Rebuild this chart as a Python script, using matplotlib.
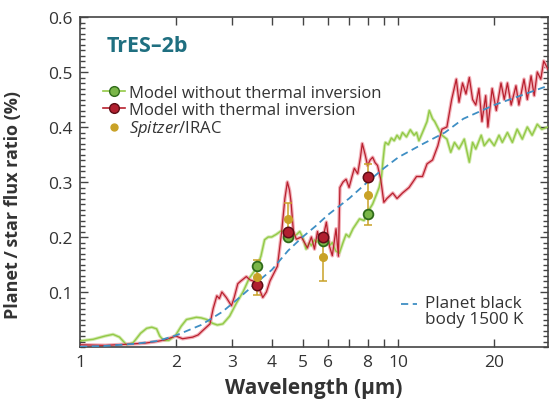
import matplotlib
matplotlib.use("Agg")
import matplotlib.pyplot as plt
from matplotlib.lines import Line2D
from matplotlib.ticker import FixedLocator, MultipleLocator, NullFormatter

plt.rcParams['font.family'] = ['Open Sans', 'DejaVu Sans']
plt.rcParams['mathtext.fontset'] = 'custom'
plt.rcParams['mathtext.rm'] = 'Open Sans'
plt.rcParams['mathtext.it'] = 'Open Sans:italic'
plt.rcParams['mathtext.bf'] = 'Open Sans:bold'

# ---------------- data ----------------
green_wl = [1.0, 1.1, 1.2, 1.27, 1.33, 1.40, 1.47, 1.55, 1.62, 1.68, 1.74, 1.78, 1.83, 1.9,
            2.0, 2.08, 2.16, 2.24, 2.32, 2.4, 2.5, 2.61, 2.7, 2.81, 2.95, 3.1, 3.25, 3.4,
            3.55, 3.62, 3.7, 3.8, 3.9, 4.0, 4.14, 4.3, 4.45, 4.55, 4.65, 4.8, 4.9, 5.0,
            5.13, 5.25, 5.33, 5.45, 5.52, 5.65, 5.8, 5.98, 6.1, 6.2, 6.35, 6.52, 6.7, 6.85,
            7.0, 7.2, 7.55, 7.8, 8.1, 8.3, 8.5, 8.7, 8.85, 8.95, 9.05, 9.1, 9.3, 9.5, 9.7,
            9.9, 10.1, 10.3, 10.6, 10.9, 11.2, 11.4, 11.6, 11.9, 12.1, 12.3, 12.5, 12.8,
            13.0, 13.4, 13.7, 14.2, 14.6, 15.0, 15.5, 16.1, 16.7, 17.1, 17.5, 18.2, 18.6,
            19.3, 20.0, 20.7, 21.2, 22.0, 22.8, 23.6, 24.5, 25.4, 26.3, 27.3, 28.2, 29.5]
green_val = [0.011, 0.014, 0.020, 0.023, 0.018, 0.004, 0.008, 0.025, 0.034, 0.036, 0.033, 0.020,
             0.012, 0.012, 0.022, 0.038, 0.050, 0.052, 0.054, 0.053, 0.050, 0.043, 0.040, 0.042,
             0.056, 0.080, 0.100, 0.125, 0.140, 0.150, 0.165, 0.195, 0.200, 0.200, 0.205, 0.212,
             0.205, 0.195, 0.200, 0.205, 0.210, 0.200, 0.178, 0.190, 0.184, 0.195, 0.190, 0.200,
             0.190, 0.198, 0.185, 0.190, 0.175, 0.170, 0.190, 0.205, 0.200, 0.215, 0.233, 0.230,
             0.250, 0.260, 0.275, 0.290, 0.310, 0.340, 0.366, 0.372, 0.368, 0.380, 0.375, 0.385,
             0.378, 0.390, 0.382, 0.395, 0.385, 0.390, 0.375, 0.390, 0.400, 0.410, 0.430, 0.415,
             0.410, 0.395, 0.385, 0.378, 0.354, 0.372, 0.360, 0.378, 0.336, 0.372, 0.360, 0.385,
             0.366, 0.378, 0.366, 0.385, 0.372, 0.390, 0.372, 0.396, 0.378, 0.400, 0.385, 0.405,
             0.396, 0.400]

red_wl = [1.0, 1.2, 1.4, 1.6, 1.74, 1.85, 2.0, 2.1, 2.26, 2.35, 2.43, 2.56, 2.62, 2.69, 2.74,
          2.79, 2.88, 2.99, 3.05, 3.13, 3.2, 3.33, 3.42, 3.5, 3.58, 3.66, 3.75, 3.85, 3.95,
          4.03, 4.17, 4.3, 4.4, 4.48, 4.55, 4.6, 4.68, 4.78, 4.96, 5.07, 5.18, 5.33, 5.45,
          5.57, 5.68, 5.78, 5.94, 6.07, 6.2, 6.37, 6.48, 6.55, 6.7, 6.85, 7.0, 7.15, 7.27,
          7.45, 7.6, 7.7, 7.86, 8.0, 8.15, 8.3, 8.45, 8.6, 8.8, 9.0, 9.2, 9.4, 9.6, 9.9,
          10.3, 10.8, 11.1, 11.4, 11.9, 12.3, 12.8, 13.3, 13.7, 14.2, 14.7, 15.2, 15.5, 15.9,
          16.3, 16.7, 17.1, 17.5, 17.9, 18.3, 18.8, 19.1, 19.7, 20.3, 21.0, 21.5, 22.0, 22.6,
          23.4, 23.9, 24.8, 25.4, 26.1, 26.7, 27.3, 28.0, 28.6, 29.5]
red_val = [0.004, 0.003, 0.005, 0.007, 0.010, 0.013, 0.020, 0.015, 0.018, 0.022, 0.030, 0.042,
           0.070, 0.093, 0.088, 0.100, 0.090, 0.075, 0.090, 0.115, 0.120, 0.128, 0.122, 0.120,
           0.110, 0.105, 0.090, 0.100, 0.120, 0.130, 0.147, 0.210, 0.270, 0.300, 0.285, 0.264,
           0.210, 0.196, 0.200, 0.190, 0.180, 0.200, 0.178, 0.210, 0.190, 0.195, 0.227, 0.184,
           0.166, 0.215, 0.165, 0.290, 0.300, 0.305, 0.290, 0.310, 0.325, 0.315, 0.345, 0.370,
           0.350, 0.330, 0.340, 0.345, 0.335, 0.330, 0.305, 0.263, 0.270, 0.275, 0.280, 0.270,
           0.280, 0.290, 0.300, 0.310, 0.310, 0.333, 0.340, 0.366, 0.396, 0.400, 0.450, 0.487,
           0.445, 0.480, 0.460, 0.490, 0.450, 0.440, 0.470, 0.410, 0.457, 0.400, 0.470, 0.430,
           0.480, 0.450, 0.480, 0.440, 0.475, 0.440, 0.487, 0.450, 0.493, 0.457, 0.500, 0.487,
           0.520, 0.505]

bb_wl = [1.0, 1.2, 1.5, 1.75, 2.0, 2.4, 2.8, 3.2, 3.6, 4.0, 4.5, 5.0, 5.5, 6.0, 7.0, 8.0,
         9.0, 10.0, 12.0, 14.0, 16.0, 20.0, 25.0, 29.5]
bb_val = [0.0005, 0.002, 0.006, 0.011, 0.021, 0.040, 0.064, 0.092, 0.118, 0.140, 0.175,
          0.200, 0.220, 0.240, 0.270, 0.300, 0.325, 0.345, 0.370, 0.390, 0.415, 0.440,
          0.460, 0.475]

band_wl = [3.6, 4.5, 5.8, 8.0]
model_no_inv = [0.148, 0.200, 0.192, 0.242]
model_inv = [0.113, 0.210, 0.200, 0.310]
spitzer_val = [0.127, 0.232, 0.163, 0.277]
spitzer_err = [0.032, 0.030, 0.043, 0.056]

xtick_pos = [1, 2, 3, 4, 5, 6, 7, 8, 9, 10, 20]
xtick_lab = ["1", "2", "3", "4", "5", "6", "", "8", "", "10", "20"]
ytick_pos = [0.1, 0.2, 0.3, 0.4, 0.5, 0.6]
ytick_lab = ["0.1", "0.2", "0.3", "0.4", "0.5", "0.6"]

# ---------------- style ----------------
c_green = "#93c947"
c_green_halo = "#d3eab0"
c_red = "#b8202e"
c_red_halo = "#f2b0b8"
c_blue = "#3f8fc4"
c_gold = "#c9a227"
c_text = "#333333"

fig = plt.figure(figsize=(5.52, 4.06), dpi=100)
ax = fig.add_axes([80 / 552, 1 - 348 / 406, 468 / 552, 330 / 406])

ax.plot(green_wl, green_val, color=c_green_halo, lw=2.4, solid_joinstyle="round", zorder=1)
ax.plot(red_wl, red_val, color=c_red_halo, lw=2.6, solid_joinstyle="round", zorder=2)
ax.plot(green_wl, green_val, color=c_green, lw=1.0, zorder=3)
ax.plot(red_wl, red_val, color=c_red, lw=0.9, zorder=4)
ax.plot(bb_wl, bb_val, color=c_blue, lw=1.3, dashes=(4, 2.5), zorder=5)

ax.errorbar(band_wl, spitzer_val, yerr=spitzer_err, fmt="none", ecolor=c_gold,
            elinewidth=1.1, capsize=3, capthick=1.1, zorder=6)
ax.plot(band_wl, model_no_inv, "o", ms=7, mfc="#7ab648", mec="#2f6b1a", mew=1.3, zorder=7)
ax.plot(band_wl, model_inv, "o", ms=7.5, mfc="#b01f2f", mec="#5e0d16", mew=1.1, zorder=8)
ax.plot(band_wl, spitzer_val, "o", ms=5.5, mfc=c_gold, mec=c_gold, zorder=9)

ax.set_xscale("log")
ax.set_xlim(1, 29.5)
ax.set_ylim(0, 0.6)
ax.xaxis.set_major_locator(FixedLocator(xtick_pos))
ax.set_xticklabels(xtick_lab)
ax.xaxis.set_minor_locator(FixedLocator([]))
ax.xaxis.set_minor_formatter(NullFormatter())
ax.set_yticks(ytick_pos)
ax.set_yticklabels(ytick_lab)
ax.yaxis.set_minor_locator(MultipleLocator(0.01))

ax.tick_params(which="both", direction="in", top=True, right=True, colors="#444444",
               labelcolor=c_text, labelsize=12.5, width=1.0)
ax.tick_params(which="major", length=6, pad=5)
ax.tick_params(which="minor", length=3.5)
for s in ax.spines.values():
    s.set_color("#444444")
    s.set_linewidth(1.2)

ax.set_xlabel("Wavelength (µm)", fontsize=15, fontweight="bold", color=c_text, labelpad=5)
ax.set_ylabel("Planet\u2009/\u2009star flux ratio (%)", fontsize=13, fontweight="bold",
              color=c_text)
ax.yaxis.set_label_coords(-0.124, 0.433)

ax.text(0.056, 0.913, "TrES–2b", transform=ax.transAxes, fontsize=15.5, fontweight="bold",
        color="#1f6f80", ha="left", va="center")

handles = [
    Line2D([0], [0], color=c_green, lw=1.2, marker="o", ms=7, mfc="#7ab648", mec="#2f6b1a"),
    Line2D([0], [0], color=c_red, lw=1.2, marker="o", ms=7, mfc="#b01f2f", mec="#5e0d16"),
    Line2D([0], [0], color="none", marker="o", ms=5, mfc=c_gold, mec=c_gold),
]
labels = ["Model without thermal inversion", "Model with thermal inversion",
          "$\\it{Spitzer}$/IRAC"]
leg = ax.legend(handles, labels, loc="upper left", bbox_to_anchor=(0.025, 0.83),
                frameon=False, fontsize=12, handlelength=1.3, handletextpad=0.25,
                labelspacing=0.05, borderaxespad=0.3)
for t in leg.get_texts():
    t.set_color(c_text)

ax.plot([0.685, 0.72], [0.13, 0.13], transform=ax.transAxes, color=c_blue, lw=1.3,
        dashes=(4, 2.5))
ax.text(0.738, 0.109, "Planet black\nbody 1500 K", transform=ax.transAxes, fontsize=12.3,
        color=c_text, ha="left", va="center", linespacing=1.0)

fig.savefig("out.png", dpi=100)
